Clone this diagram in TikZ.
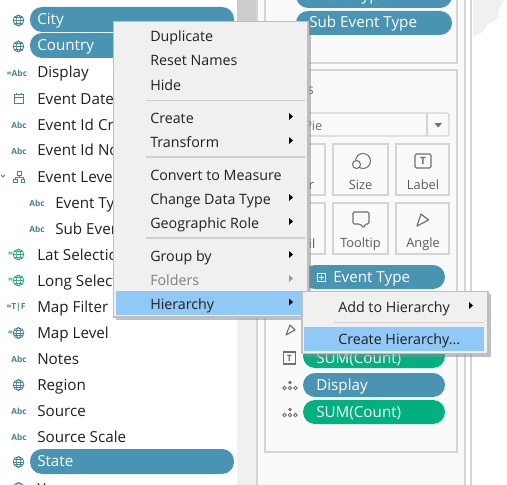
\documentclass[tikz,border=0pt]{standalone}
\usepackage{fontspec}
\setmainfont{Open Sans}
\usetikzlibrary{shapes.geometric}
\definecolor{pillblue}{HTML}{4A94B3}
\definecolor{pillgreen}{HTML}{00B180}
\definecolor{menubg}{HTML}{F0F0F0}
\definecolor{menuhi}{HTML}{90C8F6}
\definecolor{menuline}{HTML}{D0D0D0}
\definecolor{panelbg}{HTML}{F9F9F9}
\definecolor{cardline}{HTML}{D4D4D4}
\definecolor{txt}{HTML}{202020}
\definecolor{icon}{HTML}{4A8296}
\definecolor{icongreen}{HTML}{3FA98A}
\definecolor{icongray}{HTML}{707070}
\tikzset{
  x=0.75pt,y=-0.75pt,
  field/.style={anchor=west,inner sep=0pt,text height=9pt,text depth=1.5pt,font=\fontsize{11.4}{13}\selectfont,text=txt},
  pilltext/.style={field,text=white},
  menuitem/.style={anchor=west,inner sep=0pt,text height=9pt,text depth=1.5pt,font=\fontsize{10.7}{13}\selectfont,text=txt},
  abc/.style={anchor=center,inner sep=0pt,font=\bfseries\fontsize{6.3}{7}\selectfont,text=icon},
  cardlabel/.style={anchor=center,inner sep=0pt,font=\fontsize{9.6}{11}\selectfont,text=icongray!80!black},
  card/.style={draw=cardline,line width=0.8pt,fill=panelbg},
  btn/.style={draw=cardline,line width=0.8pt,fill=panelbg},
  sep/.style={draw=menuline,line width=0.8pt},
  pillshape/.style={rounded corners=9pt},
}
\newcommand{\globeicon}[3]{%
  \begin{scope}[shift={(#1,#2)},draw=#3,line width=0.6pt]
    \draw (0,0) circle[radius=5.4];
    \draw (0,0) ellipse[x radius=2.4,y radius=5.4];
    \draw (-5.4,0) -- (5.4,0) (-4.7,-2.7) -- (4.7,-2.7) (-4.7,2.7) -- (4.7,2.7);
  \end{scope}}
\newcommand{\arrowmark}[3]{\fill[#3] (#1,#2-3.5) -- (#1+4,#2) -- (#1,#2+3.5) -- cycle;}
\newcommand{\dotsicon}[2]{%
  \begin{scope}[shift={(#1,#2)},draw=icongray,line width=0.6pt]
    \fill[icongray] (0,-2.5) circle[radius=1.8];
    \draw (-5.5,3) circle[radius=1.7] (0,3) circle[radius=1.7] (5.5,3) circle[radius=1.7];
  \end{scope}}
\begin{document}
\begin{tikzpicture}
\useasboundingbox (0,0) rectangle (507,485);
\fill[white] (0,0) rectangle (507,485);
% gutter between data pane and shelves
\fill[menubg] (237,0) rectangle (257,485);
\fill[black!20] (237,0) rectangle (257,21);
% map fragment
\fill[black!6] (473,0) -- (504,0) -- (498,12) -- (499,18) -- (488,24) -- (483,32) -- (473,36) -- cycle;
% shelves panel
\fill[panelbg] (257,0) rectangle (465,485);
\draw[cardline,line width=0.8pt] (257,0) -- (257,485) (465,0) -- (465,485) (471,0) -- (471,485);
\draw[card] (265,-3) rectangle (457,63);
\draw[card] (265,70) rectangle (457,452);
% shelf contents, upper card
\fill[pillblue,pillshape] (296,-16) rectangle (452,8);
\node[pilltext] (tEventTop) at (310,-4) {Event Type};
\fill[pillblue,pillshape] (296,11) rectangle (452,35);
\node[pilltext] (tSubTop) at (309,23) {Sub Event Type};
\node[anchor=east,inner sep=0pt,font=\fontsize{10.5}{12}\selectfont,text=icongray] (tMarks) at (314,89) {Marks};
% mark type selector
\draw[btn,rounded corners=1.5] (265,113) rectangle (449,136);
\draw[cardline,line width=0.8pt] (427,113) -- (427,136);
\fill[icongray] (434.5,123) -- (442,123) -- (438.2,127.5) -- cycle;
\node[anchor=west,inner sep=0pt,font=\fontsize{9.6}{11}\selectfont,text=icongray] (tPie) at (304,125.5) {Pie};
% mark buttons
\draw[btn] (271,144) rectangle (325,195);
\draw[btn] (333,144) rectangle (388,195);
\draw[btn] (396,144) rectangle (449,195);
\draw[btn] (271,203) rectangle (325,254);
\draw[btn] (333,203) rectangle (388,254);
\draw[btn] (396,203) rectangle (449,254);
\node[cardlabel] (tColor) at (298,185) {Color};
\node[cardlabel] (tSize) at (360.5,185) {Size};
\node[cardlabel] (tLabel) at (423,185) {Label};
\node[cardlabel] (tDetail) at (298,244) {Detail};
\node[cardlabel] (tTooltip) at (360.5,244) {Tooltip};
\node[cardlabel] (tAngle) at (423,244) {Angle};
% size icon
\draw[icongray,line width=0.8pt] (363,161) circle[radius=7.5];
\draw[icongray,line width=0.8pt,fill=panelbg] (356.5,164.5) circle[radius=4];
% label icon
\draw[icongray,line width=0.8pt,rounded corners=1,fill=panelbg] (415,154) rectangle (431,168);
\node[anchor=center,inner sep=0pt,font=\bfseries\fontsize{7.5}{8}\selectfont,text=icongray] (tLabelT) at (423,161) {T};
% tooltip icon
\draw[icongray,line width=0.8pt,rounded corners=1] (353,212) -- (369,212) -- (369,224) -- (365,224) -- (364,228) -- (360,224) -- (353,224) -- cycle;
% angle icon
\draw[icongray,line width=0.9pt,line join=round] (417,226) -- (421,214) -- (428.5,220) -- cycle;
% lower pills
\fill[pillblue,pillshape] (303,265) rectangle (445,289);
\draw[white,line width=0.7pt] (317.5,273) rectangle (325.5,281);
\draw[white,line width=0.7pt] (319,277) -- (324,277) (321.5,274.5) -- (321.5,279.5);
\node[pilltext] (tEventType) at (333,277.5) {Event Type};
\fill[pillgreen,pillshape] (303,344) rectangle (445,368);
\node[pilltext] (tSum1) at (316,358) {SUM(Count)};
\fill[pillblue,pillshape] (303,373) rectangle (445,397);
\node[pilltext] (tDisplay) at (316,385.5) {Display};
\fill[pillgreen,pillshape] (303,400) rectangle (445,424);
\node[pilltext] (tSum2) at (316,412.5) {SUM(Count)};
\draw[icongray,line width=0.8pt,line join=round] (286,335) -- (290,325) -- (295,330) -- cycle;
\draw[icongray,line width=0.8pt] (283.5,352) rectangle (295.5,364);
\node[anchor=center,inner sep=0pt,font=\bfseries\fontsize{6.5}{7}\selectfont,text=icongray] (tShelfT) at (289.5,358) {T};
\dotsicon{290}{385}
\dotsicon{290}{412}
% data pane pills
\fill[pillblue,pillshape] (30,7) rectangle (234,32);
\node[pilltext] (tCity) at (37,20) {City};
\fill[pillblue,pillshape] (30,33) rectangle (234,58);
\node[pilltext] (tCountry) at (37,46) {Country};
\fill[pillblue,pillshape] (30,449) rectangle (234,474);
\node[pilltext] (tState) at (37,461.5) {State};
\globeicon{18.5}{20.5}{icon}
\globeicon{18.5}{46.5}{icon}
\globeicon{18.5}{462}{icon}
\globeicon{18.5}{385}{icon}
\globeicon{18.5}{488}{icon}
% field labels
\node[field] (fDisplay) at (37,73) {Display};
\node[field] (fDate) at (37,99) {Event Date};
\node[field] (fIdCr) at (37,125) {Event Id Cr};
\node[field] (fIdNo) at (37,151) {Event Id No};
\node[field] (fLevel) at (37,177) {Event Level};
\node[field] (fType) at (55,203) {Event Type};
\node[field] (fSub) at (55,229) {Sub Event};
\node[field] (fLat) at (37,255) {Lat Selection};
\node[field] (fLong) at (37,281) {Long Selection};
\node[field] (fMapF) at (37,307) {Map Filter};
\node[field] (fMapL) at (37,333) {Map Level};
\node[field] (fNotes) at (37,359) {Notes};
\node[field] (fRegion) at (37,385) {Region};
\node[field] (fSource) at (37,411) {Source};
\node[field] (fScale) at (37,437) {Source Scale};
\node[field] (fYear) at (37,489) {Year};
% field type icons
\node[abc] (iDisp) at (17,73) {=Abc};
\node[abc] (iCr) at (19,125) {Abc};
\node[abc] (iNo) at (19,151) {Abc};
\node[abc] (iType) at (37,203) {Abc};
\node[abc] (iSub) at (37,229) {Abc};
\node[abc] (iNotes) at (19,359) {Abc};
\node[abc] (iSource) at (19,411) {Abc};
\node[abc] (iScale) at (19,437) {Abc};
\node[abc,text=icon] (iMapF) at (16,307) {=T|F};
\node[abc] (iEqMapL) at (10.5,333) {=};
% date icon
\draw[icon,line width=0.7pt] (14.5,94.5) rectangle (23.5,103) (14.5,97.5) -- (23.5,97.5) (16.5,93) -- (16.5,95) (21.5,93) -- (21.5,95);
% hierarchy icon
\draw[icon,line width=0.7pt] (17,171.5) rectangle (21,175) (19,175) -- (19,177.5) (15,179.5) -- (15,177.5) -- (23,177.5) -- (23,179.5) (13.5,179.5) rectangle (17,182.5) (21,179.5) rectangle (24.5,182.5);
\draw[icongray,line width=0.6pt] (1,175) -- (3,177) -- (5,174.5);
% green globes
\node[abc,text=icongreen] (iEqLat) at (10.5,254) {=};
\node[abc,text=icongreen] (iEqLong) at (10.5,280) {=};
\globeicon{18.5}{254.5}{icongreen}
\globeicon{18.5}{280.5}{icongreen}
\globeicon{18.5}{333}{icon}
% context menu
\fill[black!45,opacity=.55] (116,24) rectangle (311,320);
\fill[menubg,draw=black!25,line width=0.8pt] (113.5,21.5) rectangle (308,317);
\draw[sep] (146,100.5) -- (305,100.5) (146,157) -- (305,157) (146,238) -- (305,238);
\fill[menuhi] (116,291) rectangle (308,315);
\node[menuitem] (mDup) at (150,37) {Duplicate};
\node[menuitem] (mReset) at (150,61) {Reset Names};
\node[menuitem] (mHide) at (150,85) {Hide};
\node[menuitem] (mCreate) at (150,118) {Create};
\node[menuitem] (mTrans) at (150,142) {Transform};
\node[menuitem] (mConv) at (150,175) {Convert to Measure};
\node[menuitem] (mChange) at (150,199) {Change Data Type};
\node[menuitem] (mGeo) at (150,223) {Geographic Role};
\node[menuitem] (mGroup) at (150,256) {Group by};
\node[menuitem,text=black!50] (mFold) at (150,280) {Folders};
\node[menuitem] (mHier) at (150,304) {Hierarchy};
\arrowmark{289}{116.5}{black}
\arrowmark{289}{140.5}{black}
\arrowmark{289}{197.5}{black}
\arrowmark{289}{221.5}{black}
\arrowmark{289}{254.5}{black}
\arrowmark{289}{278.5}{black!40}
\arrowmark{289}{302}{black}
% submenu
\fill[black!45,opacity=.55] (305,294) rectangle (491,357);
\fill[menubg,draw=black!25,line width=0.8pt] (302,291.5) rectangle (488,353.5);
\draw[sep] (334,322.5) -- (484,322.5);
\fill[menuhi] (304,327) rectangle (484,351);
\node[menuitem] (sAdd) at (338,307) {Add to Hierarchy};
\node[menuitem] (sCreate) at (338,339.5) {Create Hierarchy...};
\arrowmark{469}{305.5}{black}
\end{tikzpicture}
\end{document}
